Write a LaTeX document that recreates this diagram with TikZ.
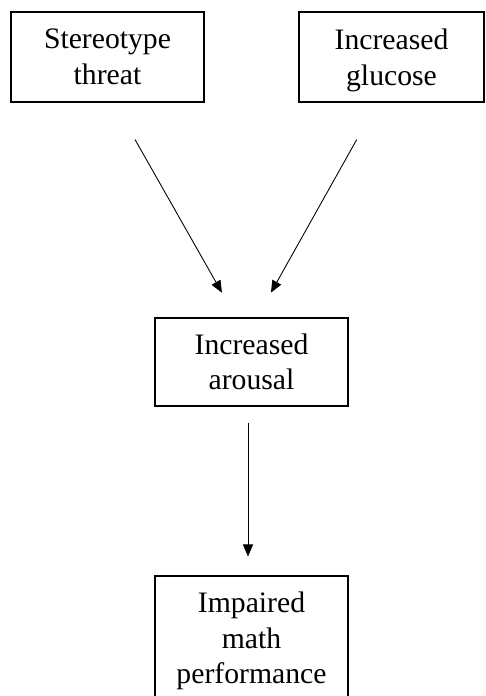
\documentclass[tikz,border=0pt]{standalone}
\usepackage{fontspec}
\setmainfont{Liberation Serif}
\usetikzlibrary{arrows.meta}

\tikzset{
	>={Triangle[length=0.24cm,width=0.2cm]},
	box/.style={draw, line width=0.6pt, align=center, inner sep=0pt,
		font=\fontsize{16.9}{20.2}\selectfont},
	link/.style={->, line width=0.5pt}
}

\begin{document}
\begin{tikzpicture}
		
			\useasboundingbox (0,0) rectangle (9.7,-13.92);
			
			\node[box, minimum width=3.86cm, minimum height=1.8cm] (st) at (2.15,-1.14) {Stereotype\\threat};
			\node[box, minimum width=3.7cm, minimum height=1.8cm] (gl) at (7.83,-1.14) {Increased\\\raisebox{0pt}[\height][0pt]{glucose}};
			
			\node[box, minimum width=3.86cm, minimum height=1.76cm] (ar) at (5.03,-7.24) {Increased\\arousal};
			
			\node[box, minimum width=3.86cm, minimum height=2.6cm] (im) at (5.03,-12.82) {Impaired\\math\\performance};
			
			\draw ([xshift=0.13cm]st.south) edge[link, shorten <=0.85cm, shorten >=0.57cm] ([xshift=-0.31cm]ar.north)
			([xshift=-0.28cm]gl.south) edge[link, shorten <=0.85cm, shorten >=0.57cm] ([xshift=0.11cm]ar.north)
			([xshift=-0.07cm]ar.south) edge[link, shorten <=0.32cm, shorten >=0.38cm] ([xshift=-0.07cm]im.north);
			
		\end{tikzpicture}
\end{document}
